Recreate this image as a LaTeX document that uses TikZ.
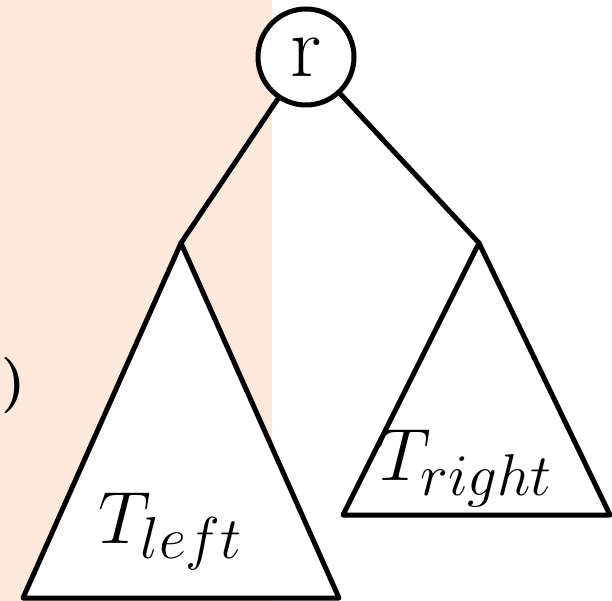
\documentclass[tikz,border=0pt]{standalone}
\usepackage{fix-cm}
\usepackage{tikz}
\DeclareMathSizes{74}{74}{59}{44}
\definecolor{peach}{RGB}{252,233,219}
\begin{document}
\begin{tikzpicture}[x=1pt, y=-1pt, line cap=round, line join=round]
% tree with two subtrees, drawn on a pixel grid
\providecommand{\treeLineWidth}{5pt}
\tikzset{
  rootnode/.style={circle, draw, fill=white, line width=\treeLineWidth, minimum size=96pt, inner sep=0pt, font=\fontsize{88}{96}\selectfont},
  subtree/.style={draw, fill=white, line width=\treeLineWidth},
  edge/.style={draw, line width=\treeLineWidth},
  treelabel/.style={anchor=base west, inner sep=0pt, font=\fontsize{74}{80}\selectfont}
}
\useasboundingbox (0,0) rectangle (612,601);
% Shaded half
\fill[peach] (0,0) rectangle (272,601);
\node[anchor=west, inner sep=0pt, font=\fontsize{56}{60}\bfseries\selectfont] (paren) at (1,386) {)};
% Subtrees
\coordinate (la) at (181,243);
\coordinate (ra) at (479,243);
\path[subtree] (la) -- (23,598) -- (339,598) -- cycle;
\path[subtree] (ra) -- (343,515) -- (610,515) -- cycle;
\node[treelabel] (tl) at (98,543) {$T_{left}$};
\node[treelabel] (tr) at (378,480) {$T_{right}$};
% Root and edges
\node[rootnode] (r) at (306,57) {\raisebox{-5pt}{r}};
\draw[edge] (r) -- (la);
\draw[edge] (r) -- (ra);
\end{tikzpicture}
\end{document}
